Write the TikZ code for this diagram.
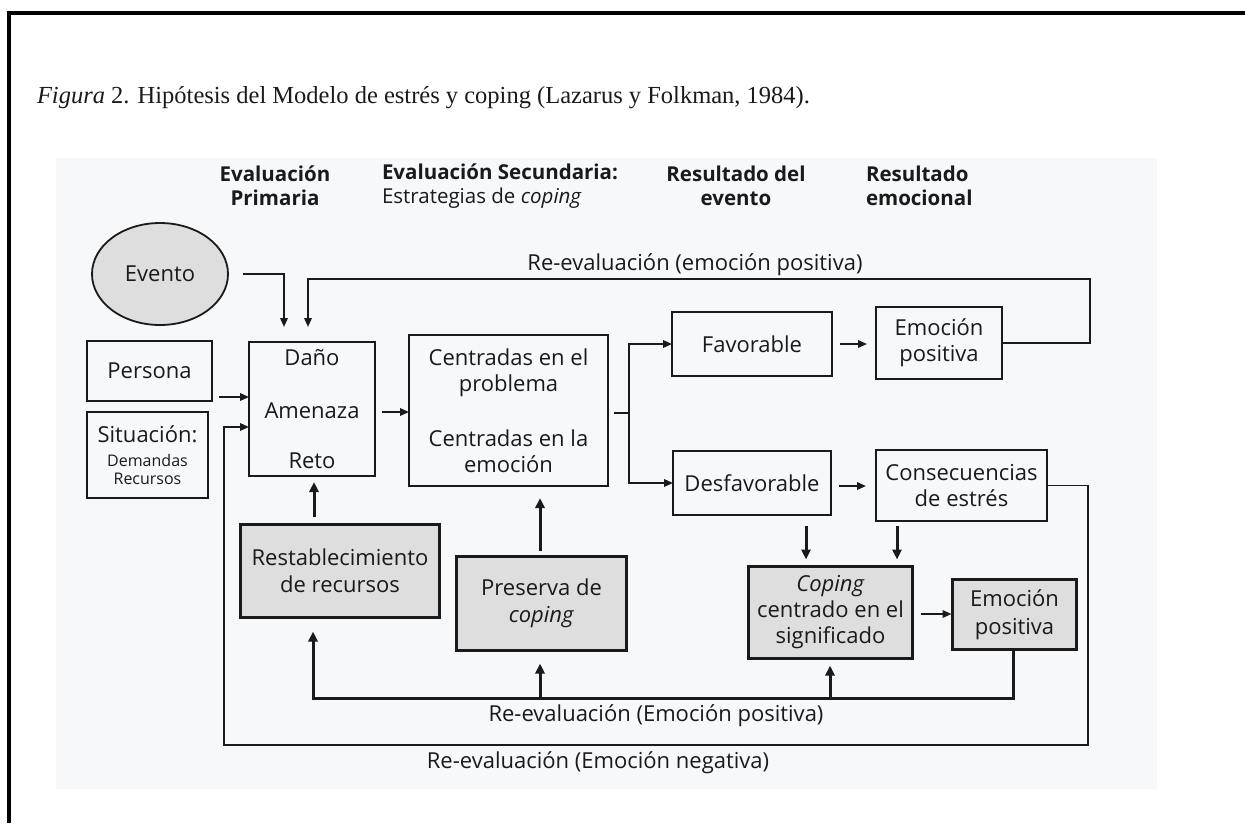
\documentclass[tikz,border=0pt]{standalone}
\usepackage{fontspec}
\setmainfont{Liberation Serif}
\newfontfamily\diag{Open Sans}
\usetikzlibrary{arrows.meta,calc,shapes.geometric}
\definecolor{panel}{HTML}{F7F8FA}
\definecolor{shade}{HTML}{DEDEDE}
\definecolor{ink}{HTML}{1A1A1A}

\begin{document}
\begin{tikzpicture}[x=1pt,y=-1pt,
  every node/.style={inner sep=0pt, outer sep=0pt, text=ink},
  txt/.style={font=\diag\fontsize{22}{26}\selectfont, align=center},
  headfont/.style={font=\diag\bfseries\fontsize{20.5}{24}\selectfont},
  plainbox/.style={txt, draw=ink, line width=1.8pt},
  heavybox/.style={txt, draw=ink, line width=3.5pt, fill=shade},
  thinline/.style={draw=ink, line width=1.8pt},
  thickline/.style={draw=ink, line width=3pt},
  arrowtip/.style={-{Triangle[length=9pt,width=7.5pt]}},
  heavytip/.style={-{Triangle[length=10pt,width=9pt]}},
]
\useasboundingbox (0,0) rectangle (1245,823);

% page frame and figure panel
\draw[line width=4pt] (7,13) -- (1245,13);
\draw[line width=4pt] (9,11) -- (9,823);
\fill[panel] (56,158) rectangle (1157,789);

% caption
\node[anchor=base west, font=\fontsize{24.5}{29}\selectfont] (caption) at (37,103)
  {\textit{Figura} 2. Hipótesis del Modelo de estrés y coping (Lazarus y Folkman, 1984).};

% column headings
\node[headfont, align=center] (h1) at (275,186) {Evaluación\\Primaria};
\node[headfont, align=left, anchor=west] (h2) at (382,186)
  {Evaluación Secundaria:\\{\mdseries Estrategias de \textit{coping}}};
\node[headfont, align=center] (h3) at (736,186) {Resultado del\\evento};
\node[headfont, align=left, anchor=west] (h4) at (866,186) {Resultado\\emocional};

% nodes
\node[ellipse, draw=ink, line width=1.8pt, fill=shade, minimum width=136pt,
      minimum height=102pt, txt] (evento) at (160,274) {Evento};
\node[plainbox, minimum width=125pt, minimum height=60pt] (persona) at (149.5,371) {Persona};
\node[plainbox, minimum width=121pt, minimum height=86pt] (situacion) at (147.5,455)
  {Situación:\\[-2pt]{\fontsize{16}{18}\selectfont Demandas}\\[-8pt]{\fontsize{16}{18}\selectfont Recursos}};
\node[plainbox, minimum width=126pt, minimum height=134pt] (dano) at (312,409)
  {Daño\\[27pt]Amenaza\\[24pt]Reto};
\node[plainbox, minimum width=199pt, minimum height=151pt] (centradas) at (508.5,410.5)
  {Centradas en el\\problema\\[29pt]Centradas en la\\emoción};
\node[plainbox, minimum width=160pt, minimum height=64pt] (fav) at (752,344) {Favorable};
\node[plainbox, minimum width=126pt, minimum height=72pt] (emo1) at (939,343) {Emoción\\positiva};
\node[plainbox, minimum width=158pt, minimum height=64pt] (desf) at (752,483) {Desfavorable};
\node[plainbox, minimum width=171pt, minimum height=71pt] (consec) at (961.5,485.5)
  {Consecuencias\\de estrés};
\node[heavybox, minimum width=199pt, minimum height=93pt] (restab) at (340,571)
  {Restablecimiento\\[1pt]de recursos};
\node[heavybox, minimum width=170pt, minimum height=94pt] (preserva) at (541.5,603.5)
  {Preserva de\\[1pt]\textit{coping}};
\node[heavybox, minimum width=164pt, minimum height=92pt] (coping) at (830.5,612.5)
  {\textit{Coping}\\centrado en el\\significado};
\node[heavybox, minimum width=124pt, minimum height=70pt] (emo2) at (1014.5,614.5)
  {Emoción\\[2pt]positiva};

% event into primary appraisal
\draw[thinline, arrowtip, shorten <=15pt, shorten >=15pt] (evento.east) -| ($(dano.north)+(-28,0)$);

% re-appraisal after positive emotion (top loop)
\coordinate (topright) at (1090,279);
\draw[thinline, arrowtip, shorten >=15pt] (emo1.east) -| (topright) -| ($(dano.north)+(-4,0)$);
\node[txt] (reevaltop) at (695,265) {Re-evaluación (emoción positiva)};

% person and situation
\draw[thinline, arrowtip] ($(persona.south east)+(7,-4)$) -- ($(dano.west)+(0,-12)$);

% re-appraisal after negative emotion (outer loop)
\coordinate (negright) at (1088,745);
\coordinate (negleft) at (224,745);
\draw[thinline, arrowtip] (consec.east) -| (negright) -- (negleft) |- ($(dano.west)+(0,18)$);
\node[txt] (reevalneg) at (598,763) {Re-evaluación (Emoción negativa)};

% appraisal into coping strategies
\draw[thinline, arrowtip] ($(dano.east)+(7,3)$) -- ($(centradas.west)+(0,1.5)$);

% outcome split
\coordinate (split) at (629,413);
\draw[thinline] ($(centradas.east)+(6,2.5)$) -- (split);
\draw[thinline, arrowtip] (split) |- (fav.west);
\draw[thinline, arrowtip] (split) |- (desf.west);

% outcome to emotion
\draw[thinline, arrowtip, shorten <=8pt, shorten >=9pt] (fav.east) -- (fav.east -| emo1.west);
\draw[thinline, arrowtip, shorten <=8pt, shorten >=10pt] ($(desf.east)+(0,3)$) -- ($(desf.east -| consec.west)+(0,3)$);
\draw[thinline, arrowtip, shorten <=8pt, shorten >=1pt] ($(coping.east)+(0,1.5)$) -- ($(coping.east -| emo2.west)+(0,1.5)$);

% into meaning-focused coping
\draw[thickline, heavytip] ($(desf.south)+(54,11)$) -- ($(coping.north)+(-24.5,-7)$);
\draw[thickline, heavytip] ($(consec.south)+(-64.5,5)$) -- ($(coping.north)+(66.5,-7)$);

% resources and coping feeding back
\draw[thickline, heavytip] ($(restab.north)+(-26,-8)$) -- ($(dano.south)+(2,6)$);
\draw[thickline, heavytip] ($(preserva.north)+(-1.5,-6)$) -- ($(centradas.south)+(31.5,12)$);

% re-appraisal after positive emotion (bottom loop)
\coordinate (posright) at (1013,698);
\coordinate (posleft) at (313,698);
\coordinate (presin) at ($(preserva.south)+(-1.5,13)$);
\coordinate (copin) at ($(coping.south)+(-0.5,7)$);
\draw[thickline, heavytip] ($(emo2.south)+(-1.5,0)$) -- (posright) -- (posleft) -- ($(restab.south)+(-27,14)$);
\draw[thickline, heavytip] (presin |- posleft) -- (presin);
\draw[thickline, heavytip] (copin |- posleft) -- (copin);
\node[txt] (reevalbot) at (656,716) {Re-evaluación (Emoción positiva)};
\end{tikzpicture}
\end{document}
